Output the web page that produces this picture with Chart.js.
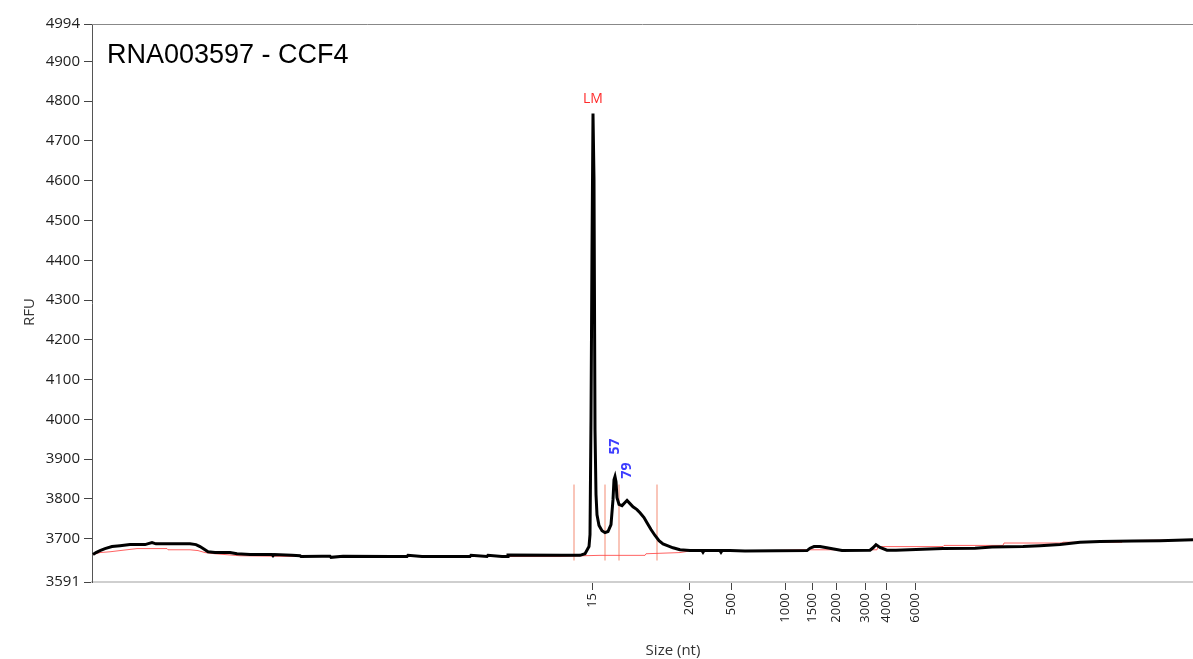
<!DOCTYPE html>
<html>
<head>
<meta charset="utf-8">
<script src="https://cdn.jsdelivr.net/npm/chart.js@4/dist/chart.umd.min.js"></script>
<style>
  html, body { margin: 0; padding: 0; background: #fff; }
  #wrap { width: 1193px; height: 659px; }
</style>
</head>
<body>
<div id="wrap"><canvas id="trace"></canvas></div>
<script>
// migration time index (0 = left edge of plot) and RFU of the sample trace
var traceIdx = [1, 4, 8, 13, 20, 28, 38, 53, 60, 64, 98, 104, 108, 113, 116, 123, 138, 145, 158, 180, 181, 182, 200, 208, 209, 230, 238, 239, 251, 300, 315, 316, 330, 378, 379, 395, 396, 410, 415, 416, 470, 488,
  493, 497, 498, 499, 500, 501, 502, 503, 504, 505, 507, 510, 513, 516, 519, 521, 522, 523, 524, 525, 527, 530, 533, 535, 538, 541, 545, 548, 552, 555, 559, 563, 567, 571, 576, 581, 588, 598,
  610, 611, 612, 628, 629, 630, 638, 653, 715, 718, 722, 728, 750, 778, 781, 784, 788, 795, 804, 851, 883, 900, 931, 948, 968, 988, 1008, 1041, 1068, 1101];
var traceRfu = [3660, 3665, 3670, 3675, 3680, 3682, 3685, 3685, 3690, 3687, 3687, 3685, 3680, 3672, 3667, 3665, 3665, 3662, 3660, 3660, 3657, 3660, 3658, 3657, 3655, 3656, 3656, 3653, 3656, 3655, 3655, 3658, 3655, 3655, 3658, 3655, 3658, 3655, 3655, 3659, 3658, 3658,
  3662, 3680, 3710, 3999, 4427, 4769, 4603, 3974, 3811, 3760, 3733, 3720, 3715, 3718, 3735, 3798, 3848, 3856, 3843, 3803, 3786, 3783, 3791, 3796, 3788, 3780, 3773, 3765, 3753, 3740, 3723, 3708, 3695, 3687, 3682, 3677, 3672, 3670,
  3670, 3666, 3670, 3670, 3666, 3670, 3670, 3669, 3670, 3676, 3680, 3680, 3670, 3671, 3677, 3685, 3678, 3671, 3671, 3675, 3676, 3679, 3680, 3682, 3685, 3691, 3693, 3694, 3695, 3697];

// baseline fitted under the trace
var baseIdx = [1, 8, 18, 28, 45, 75, 76, 98, 106, 113, 123, 148, 208, 468, 491, 508, 553, 554, 588, 598, 668, 708, 785, 786, 851, 852, 911, 912, 970, 971, 1030, 1031, 1101];
var baseRfu = [3660, 3665, 3667, 3670, 3675, 3675, 3672, 3672, 3670, 3665, 3662, 3657, 3655, 3655, 3657, 3658, 3658, 3662, 3665, 3669, 3669, 3672, 3672, 3680, 3680, 3683, 3683, 3689, 3689, 3691, 3691, 3695, 3697];

// marker windows (vertical lines)
var markerIdx = [482, 513, 527, 565];
var markerTop = 3836;
var markerBottom = 3645;

// peak labels
var peakLabels = ['LM', '57', '79'];
var peakIdx = [501, 523, 535];
var peakRfu = [4769, 3856, 3796];

// size ladder shown on the x axis
var sizeLabels = ['15', '200', '500', '1000', '1500', '2000', '3000', '4000', '6000'];
var sizeIdx = [500, 597, 639, 693, 720, 744, 773, 794, 823];

// y ticks
var rfuTicks = [3591, 3700, 3800, 3900, 4000, 4100, 4200, 4300, 4400, 4500, 4600, 4700, 4800, 4900, 4994];

var tracePts = traceIdx.map(function (x, i) { return { x: x, y: traceRfu[i] }; });
var basePts = baseIdx.map(function (x, i) { return { x: x, y: baseRfu[i] }; });

var datasets = [
  { data: tracePts, borderColor: '#000', borderWidth: 3, pointRadius: 0, tension: 0, fill: false },
  { data: basePts, borderColor: 'rgba(255,70,70,0.85)', borderWidth: 1, pointRadius: 0, tension: 0, fill: false }
];
markerIdx.forEach(function (m) {
  datasets.push({
    data: [{ x: m, y: markerBottom }, { x: m, y: markerTop }],
    borderColor: 'rgba(240,110,80,0.8)', borderWidth: 1, pointRadius: 0, fill: false
  });
});

var extras = {
  id: 'extras',
  beforeDatasetsDraw: function (chart) {
    var c = chart.ctx, a = chart.chartArea;
    c.save();
    c.strokeStyle = '#888';
    c.lineWidth = 1;
    c.beginPath();
    c.moveTo(a.left, a.top + 0.5);
    c.lineTo(a.right, a.top + 0.5);
    c.stroke();
    c.restore();
  },
  afterDatasetsDraw: function (chart) {
    var c = chart.ctx, xs = chart.scales.x, ys = chart.scales.y;
    c.save();
    // title
    c.fillStyle = '#000';
    c.font = '27px "Liberation Sans", Arial, sans-serif';
    c.textAlign = 'left';
    c.textBaseline = 'alphabetic';
    c.fillText('RNA003597 - CCF4', 107, 63);

    // peak labels
    for (var i = 0; i < peakLabels.length; i++) {
      var px = xs.getPixelForValue(peakIdx[i]);
      var py = ys.getPixelForValue(peakRfu[i]);
      if (i == 0) {
        c.fillStyle = '#ff2a2a';
        c.font = '14px "Open Sans", sans-serif';
        c.textAlign = 'center';
        c.textBaseline = 'middle';
        c.fillText(peakLabels[i], px, py - 14);
      } else {
        c.save();
        c.translate(px, py - 22);
        c.rotate(-Math.PI / 2);
        c.fillStyle = '#3c3cff';
        c.font = 'bold 14px "Open Sans", sans-serif';
        c.textAlign = 'left';
        c.textBaseline = 'middle';
        c.fillText(peakLabels[i], 0, 0);
        c.restore();
      }
    }

    // axis titles
    c.fillStyle = '#333';
    c.font = '15px "Open Sans", sans-serif';
    c.textAlign = 'center';
    c.textBaseline = 'middle';
    c.save();
    c.translate(30, 312);
    c.rotate(-Math.PI / 2);
    c.fillText('RFU', 0, 0);
    c.restore();
    c.fillText('Size (nt)', 673, 651);
    c.restore();
  }
};

var chart = new Chart(document.getElementById('trace'), {
  type: 'line',
  data: { datasets: datasets },
  options: {
    responsive: true,
    maintainAspectRatio: false,
    animation: false,
    layout: { padding: { top: 24, right: 0, left: 0, bottom: 0 } },
    plugins: { legend: { display: false }, tooltip: { enabled: false } },
    scales: {
      x: {
        type: 'linear',
        min: 0,
        max: 1101,
        afterFit: function (s) { s.height = 77; },
        afterBuildTicks: function (s) { s.ticks = sizeIdx.map(function (v) { return { value: v }; }); },
        grid: { drawOnChartArea: false, tickLength: 8, color: '#444' },
        border: { color: '#cfcfcf', width: 2 },
        ticks: {
          autoSkip: false,
          maxRotation: 90,
          minRotation: 90,
          padding: 3,
          color: '#1a1a1a',
          font: { family: '"Open Sans", sans-serif', size: 13 },
          callback: function (v) {
            var k = sizeIdx.indexOf(v);
            return k >= 0 ? sizeLabels[k] : '';
          }
        }
      },
      y: {
        min: 3591,
        max: 4994,
        afterFit: function (s) { s.width = 92; },
        afterBuildTicks: function (s) { s.ticks = rfuTicks.map(function (v) { return { value: v }; }); },
        grid: { drawOnChartArea: false, tickLength: 8, color: '#444' },
        border: { color: '#555', width: 1 },
        ticks: {
          padding: 4,
          color: '#222',
          font: { family: '"Open Sans", sans-serif', size: 15 },
          callback: function (v) { return v; }
        }
      }
    }
  },
  plugins: [extras]
});
</script>
</body>
</html>
